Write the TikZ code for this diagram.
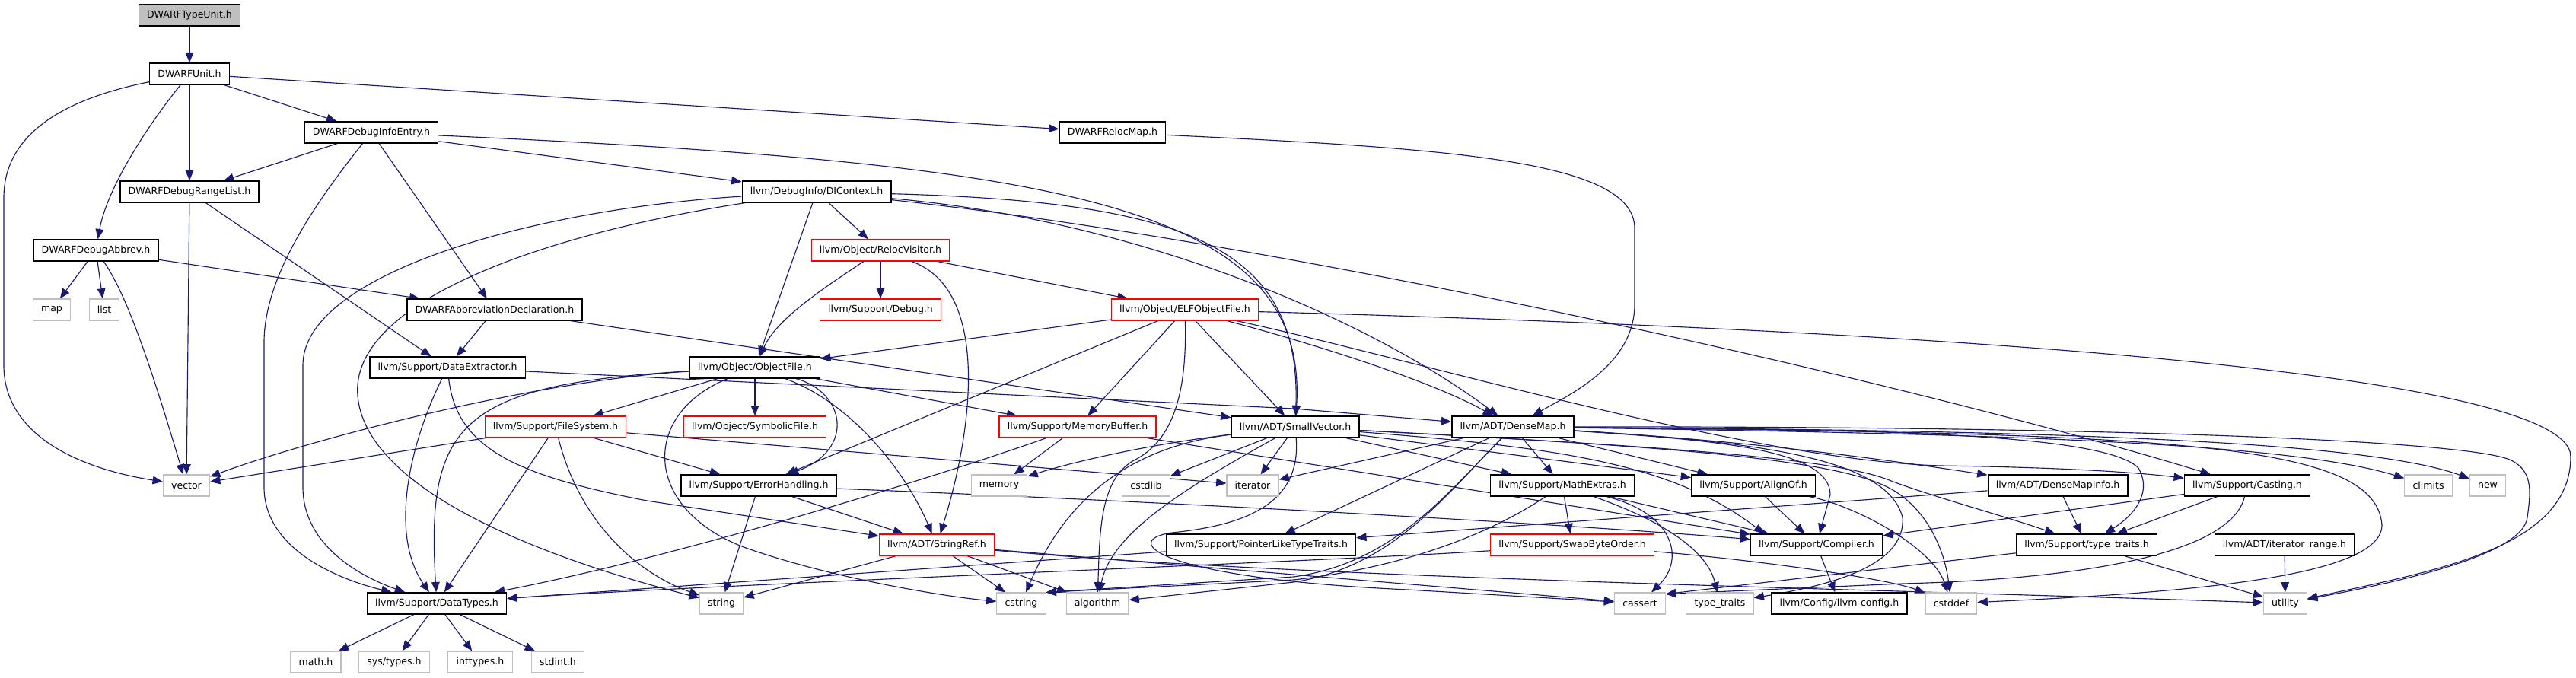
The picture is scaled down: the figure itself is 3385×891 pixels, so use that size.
\documentclass[tikz,border=0pt]{standalone}
\usepackage{fontspec}
\setmainfont{DejaVu Sans}
\usetikzlibrary{arrows.meta}
\definecolor{edgeblue}{HTML}{191970}
\definecolor{sysgray}{HTML}{BFBFBF}
\pgfdeclarelayer{bg}
\pgfsetlayers{bg,main}

\begin{document}
\begin{tikzpicture}[x=0.75pt, y=-0.75pt,
    hdr/.style={draw=black, line width=1pt, fill=white, inner xsep=8pt, inner ysep=0pt,
                minimum height=21pt, font=\fontsize{9.4}{11}\selectfont},
    trunc/.style={hdr, draw=red},
    sys/.style={hdr, draw=sysgray, line width=0.8pt},
    root/.style={hdr, fill=sysgray},
    inc/.style={edgeblue, line width=0.85pt, -{Triangle[length=10pt, width=8pt]}}]
    \useasboundingbox (0,0) rectangle (3385,891);

    % 1. Nodes, one per header (centres in pixels of the graph)
    \node[root]  (tu)       at (249,20)   {DWARFTypeUnit.h};
    \node[hdr]   (unit)     at (249,97)   {DWARFUnit.h};
    \node[hdr]   (die)      at (488,174)  {DWARFDebugInfoEntry.h};
    \node[hdr]   (reloc)    at (1462,174) {DWARFRelocMap.h};
    \node[hdr]   (range)    at (249,252)  {DWARFDebugRangeList.h};
    \node[hdr]   (dictx)    at (1073,252) {llvm/DebugInfo/DIContext.h};
    \node[hdr]   (abbrev)   at (126,329)  {DWARFDebugAbbrev.h};
    \node[trunc] (relvis)   at (1157,329) {llvm/Object/RelocVisitor.h};
    \node[sys]   (map)      at (68,407)   {map};
    \node[sys]   (list)     at (137,407)  {list};
    \node[hdr]   (abbdecl)  at (650,407)  {DWARFAbbreviationDeclaration.h};
    \node[trunc] (debug)    at (1157,407) {llvm/Support/Debug.h};
    \node[trunc] (elf)      at (1557,407) {llvm/Object/ELFObjectFile.h};
    \node[hdr]   (dext)     at (588,483)  {llvm/Support/DataExtractor.h};
    \node[hdr]   (objf)     at (992,483)  {llvm/Object/ObjectFile.h};
    \node[trunc] (fsys)     at (730,561)  {llvm/Support/FileSystem.h};
    \node[trunc] (symf)     at (992,561)  {llvm/Object/SymbolicFile.h};
    \node[trunc] (membuf)   at (1416,561) {llvm/Support/MemoryBuffer.h};
    \node[hdr]   (svec)     at (1702,561) {llvm/ADT/SmallVector.h};
    \node[hdr]   (dmap)     at (1988,561) {llvm/ADT/DenseMap.h};
    \node[sys]   (vector)   at (245,638)  {vector};
    \node[hdr]   (errh)     at (997,638)  {llvm/Support/ErrorHandling.h};
    \node[sys]   (memory)   at (1313,638) {memory};
    \node[sys]   (cstdlib)  at (1506,638) {cstdlib};
    \node[sys]   (iterator) at (1646,638) {iterator};
    \node[hdr]   (mathx)    at (2053,638) {llvm/Support/MathExtras.h};
    \node[hdr]   (align)    at (2304,638) {llvm/Support/AlignOf.h};
    \node[hdr]   (dmi)      at (2704,638) {llvm/ADT/DenseMapInfo.h};
    \node[hdr]   (cast)     at (2953,638) {llvm/Support/Casting.h};
    \node[sys]   (climits)  at (3191,638) {climits};
    \node[sys]   (new)      at (3269,638) {new};
    \node[trunc] (sref)     at (1231,716) {llvm/ADT/StringRef.h};
    \node[hdr]   (pltt)     at (1657,716) {llvm/Support/PointerLikeTypeTraits.h};
    \node[trunc] (swap)     at (2066,716) {llvm/Support/SwapByteOrder.h};
    \node[hdr]   (comp)     at (2387,716) {llvm/Support/Compiler.h};
    \node[hdr]   (ttr)      at (2742,716) {llvm/Support/type\_traits.h};
    \node[hdr]   (itr)      at (3002,716) {llvm/ADT/iterator\_range.h};
    \node[hdr]   (dtypes)   at (574,793)  {llvm/Support/DataTypes.h};
    \node[sys]   (string)   at (948,793)  {string};
    \node[sys]   (cstring)  at (1342,793) {cstring};
    \node[sys]   (algorithm) at (1442,793) {algorithm};
    \node[sys]   (cassert)  at (2155,793) {cassert};
    \node[sys]   (stdtt)    at (2260,793) {type\_traits};
    \node[hdr]   (config)   at (2417,793) {llvm/Config/llvm-config.h};
    \node[sys]   (cstddef)  at (2564,793) {cstddef};
    \node[sys]   (utility)  at (3003,793) {utility};
    \node[sys]   (mathh)    at (415,870)  {math.h};
    \node[sys]   (systypes) at (518,870)  {sys/types.h};
    \node[sys]   (inttypes) at (631,870)  {inttypes.h};
    \node[sys]   (stdint)   at (733,870)  {stdint.h};

    \begin{pgfonlayer}{bg}
    \fill[white] (0,0) rectangle (3385,891);

    % 2. Includes of the DWARF headers
    \draw[inc] (tu) -- (unit);
    \draw[inc] (unit) -- (die);
    \draw[inc] (unit) -- (range);
    \draw[inc] (unit) .. controls (190,170) and (140,250) .. (abbrev);
    \draw[inc] (unit) .. controls (60,135) and (5,190) .. (5,260) -- (5,480) .. controls (5,570) and (100,615) .. (vector);
    \draw[inc] (unit) -- (reloc);
    \draw[inc] (die) -- (range);
    \draw[inc] (die) .. controls (420,260) and (347,360) .. (347,450) -- (347,640) .. controls (347,720) and (440,760) .. (dtypes);
    \draw[inc] (die) -- (abbdecl);
    \draw[inc] (die) -- (dictx);
    \draw[inc] (die) .. controls (1400,215) and (1720,270) .. (svec);
    \draw[inc] (range) -- (vector);
    \draw[inc] (range) -- (dext);
    \draw[inc] (abbrev) -- (map);
    \draw[inc] (abbrev) -- (list);
    \draw[inc] (abbrev) .. controls (165,385) and (195,470) .. (vector);
    \draw[inc] (abbrev) -- (abbdecl);
    \draw[inc] (abbdecl) -- (dext);
    \draw[inc] (abbdecl) -- (svec);
    \draw[inc] (reloc) .. controls (1900,195) and (2148,210) .. (2148,300) -- (2148,400) .. controls (2148,480) and (2060,520) .. (dmap);

    % 3. Includes of DIContext, RelocVisitor and the object files
    \draw[inc] (dictx) .. controls (700,275) and (398,360) .. (398,480) -- (398,640) .. controls (398,720) and (480,760) .. (dtypes);
    \draw[inc] (dictx) .. controls (700,310) and (460,400) .. (470,520) .. controls (480,640) and (700,730) .. (string);
    \draw[inc] (dictx) -- (objf);
    \draw[inc] (dictx) -- (relvis);
    \draw[inc] (dictx) .. controls (1550,265) and (1710,320) .. (svec);
    \draw[inc] (dictx) .. controls (1500,290) and (1800,420) .. (dmap);
    \draw[inc] (dictx) .. controls (1700,320) and (2500,500) .. (cast);
    \draw[inc] (relvis) -- (debug);
    \draw[inc] (relvis) -- (elf);
    \draw[inc] (relvis) .. controls (1080,380) and (1020,420) .. (objf);
    \draw[inc] (relvis) .. controls (1300,380) and (1280,560) .. (sref);
    \draw[inc] (elf) -- (objf);
    \draw[inc] (elf) -- (errh);
    \draw[inc] (elf) -- (membuf);
    \draw[inc] (elf) -- (svec);
    \draw[inc] (elf) .. controls (1720,450) and (1880,500) .. (dmap);
    \draw[inc] (elf) .. controls (1560,520) and (1540,580) .. (1490,605) .. controls (1445,630) and (1445,700) .. (algorithm);
    \draw[inc] (elf) .. controls (1850,470) and (2300,605) .. (2550,612) .. controls (2700,614) and (2800,620) .. (cast);
    \draw[inc] (elf) .. controls (2400,430) and (3378,480) .. (3378,600) .. controls (3378,720) and (3200,750) .. (utility);
    \draw[inc] (objf) -- (symf);
    \draw[inc] (objf) .. controls (1110,515) and (1125,590) .. (errh);
    \draw[inc] (objf) .. controls (1120,530) and (1190,620) .. (sref);
    \draw[inc] (objf) -- (membuf);
    \draw[inc] (objf) -- (fsys);
    \draw[inc] (objf) .. controls (700,500) and (400,580) .. (vector);
    \draw[inc] (objf) .. controls (600,505) and (560,560) .. (dtypes);
    \draw[inc] (objf) .. controls (840,545) and (845,670) .. (980,720) .. controls (1100,762) and (1250,785) .. (cstring);

    % 4. Includes of the support headers
    \draw[inc] (dext) .. controls (540,580) and (510,700) .. (dtypes);
    \draw[inc] (dext) .. controls (600,590) and (680,625) .. (850,658) -- (sref);
    \draw[inc] (dext) -- (1700,537) -- (dmap);
    \draw[inc] (membuf) -- (memory);
    \draw[inc] (membuf) .. controls (1250,620) and (900,730) .. (dtypes);
    \draw[inc] (membuf) -- (comp);
    \draw[inc] (fsys) -- (vector);
    \draw[inc] (fsys) -- (dtypes);
    \draw[inc] (fsys) .. controls (760,680) and (830,750) .. (string);
    \draw[inc] (fsys) -- (errh);
    \draw[inc] (fsys) -- (iterator);
    \draw[inc] (errh) -- (sref);
    \draw[inc] (errh) -- (string);
    \draw[inc] (errh) .. controls (1600,662) and (2100,692) .. (comp);
    \draw[inc] (sref) -- (string);
    \draw[inc] (sref) -- (cstring);
    \draw[inc] (sref) -- (algorithm);
    \draw[inc] (sref) -- (cassert);
    \draw[inc] (sref) .. controls (1700,760) and (2500,775) .. (utility);

    % 5. Includes of SmallVector and DenseMap
    \draw[inc] (svec) .. controls (1500,585) and (1400,610) .. (memory);
    \draw[inc] (svec) -- (cstdlib);
    \draw[inc] (svec) -- (iterator);
    \draw[inc] (svec) .. controls (1460,590) and (1390,680) .. (cstring);
    \draw[inc] (svec) .. controls (1560,640) and (1460,700) .. (algorithm);
    \draw[inc] (svec) .. controls (1710,660) and (1640,690) .. (1540,700) .. controls (1470,710) and (1520,760) .. (1850,775) -- (cassert);
    \draw[inc] (svec) -- (mathx);
    \draw[inc] (svec) -- (align);
    \draw[inc] (svec) .. controls (2050,588) and (2200,610) .. (comp.168);
    \draw[inc] (svec) .. controls (2150,585) and (2400,600) .. (2480,630) .. controls (2530,650) and (2640,680) .. (ttr);
    \draw[inc] (svec) .. controls (2150,585) and (2400,600) .. (2480,640) .. controls (2530,665) and (2555,720) .. (cstddef);
    \draw[inc] (dmap) -- (iterator);
    \draw[inc] (dmap) -- (pltt);
    \draw[inc] (dmap) .. controls (1900,650) and (1830,740) .. (1700,758) -- (cstring.north east);
    \draw[inc] (dmap) .. controls (1900,650) and (1830,745) .. (1700,765) -- (algorithm);
    \draw[inc] (dmap) -- (mathx);
    \draw[inc] (dmap) -- (align);
    \draw[inc] (dmap) .. controls (2300,580) and (2450,600) .. (dmi);
    \draw[inc] (dmap) .. controls (2400,565) and (2760,565) .. (2810,615) .. controls (2830,650) and (2800,680) .. (ttr);
    \draw[inc] (dmap) .. controls (2600,570) and (3000,580) .. (climits);
    \draw[inc] (dmap) .. controls (2600,565) and (3100,575) .. (new);
    \draw[inc] (dmap) .. controls (2800,560) and (3250,580) .. (3300,605) .. controls (3330,620) and (3325,650) .. (3321,680) .. controls (3315,730) and (3150,765) .. (utility);
    \draw[inc] (dmap) .. controls (2850,570) and (3122,580) .. (3130,690) .. controls (3130,755) and (2900,778) .. (cstddef);
    \draw[inc] (dmap) .. controls (2300,580) and (2480,600) .. (2500,680) .. controls (2505,745) and (2400,770) .. (stdtt);
    \draw[inc] (dmap) .. controls (2250,578) and (2405,590) .. (2405,650) -- (comp);

    % 6. Includes of the small helpers
    \draw[inc] (dmi) -- (ttr);
    \draw[inc] (dmi) -- (pltt);
    \draw[inc] (cast) -- (ttr);
    \draw[inc] (cast) -- (comp);
    \draw[inc] (cast) .. controls (2930,735) and (2700,762) .. (2500,767) -- (cassert.20);
    \draw[inc] (ttr) -- (cassert.20);
    \draw[inc] (ttr) -- (utility);
    \draw[inc] (itr) -- (utility);
    \draw[inc] (mathx) -- (swap);
    \draw[inc] (mathx) -- (comp);
    \draw[inc] (mathx) .. controls (2200,675) and (2215,735) .. (cassert);
    \draw[inc] (mathx) .. controls (2200,690) and (2245,730) .. (stdtt);
    \draw[inc] (mathx) .. controls (1960,700) and (1850,745) .. (1700,762) -- (cstring.north east);
    \draw[inc] (swap) .. controls (1800,735) and (900,770) .. (dtypes);
    \draw[inc] (swap) .. controls (2300,735) and (2480,760) .. (cstddef);
    \draw[inc] (align) -- (comp);
    \draw[inc] (align) .. controls (2440,665) and (2540,720) .. (cstddef);
    \draw[inc] (pltt) -- (dtypes);
    \draw[inc] (comp) -- (config);
    \draw[inc] (dtypes) -- (mathh);
    \draw[inc] (dtypes) -- (systypes);
    \draw[inc] (dtypes) -- (inttypes);
    \draw[inc] (dtypes) -- (stdint);
    \end{pgfonlayer}
\end{tikzpicture}
\end{document}
